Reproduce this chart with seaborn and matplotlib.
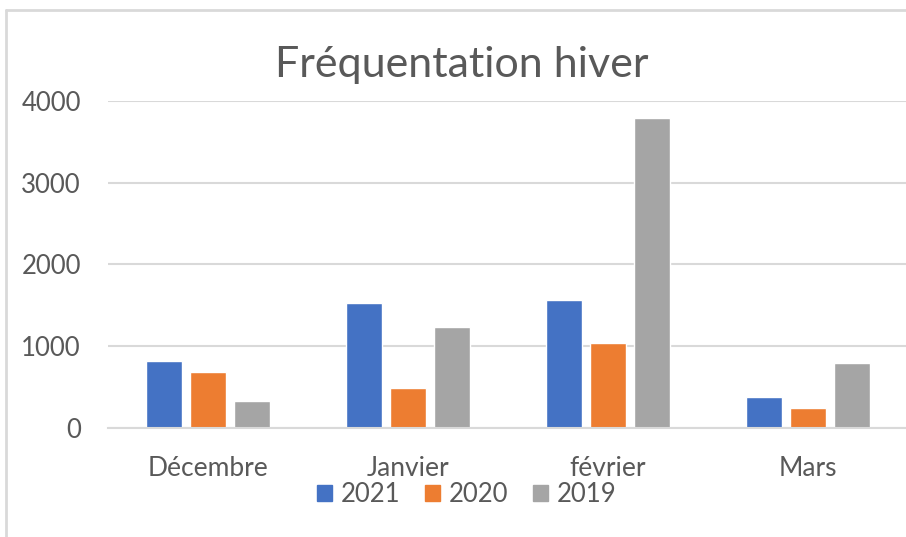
import matplotlib
matplotlib.use("Agg")
import matplotlib.pyplot as plt
import seaborn as sns
import pandas as pd
from matplotlib.patches import Rectangle
from matplotlib.lines import Line2D

months = ["Décembre", "Janvier", "février", "Mars"]
years = ["2021", "2020", "2019"]
v2021 = [820, 1525, 1565, 375]
v2020 = [685, 490, 1040, 245]
v2019 = [335, 1230, 3790, 800]
yticks = [0, 1000, 2000, 3000, 4000]
colors = ["#4472C4", "#ED7D31", "#A5A5A5"]

rows = []
for y, vals in zip(years, [v2021, v2020, v2019]):
    for m, v in zip(months, vals):
        rows.append({"Mois": m, "Année": y, "Valeur": v})
df = pd.DataFrame(rows)

sns.set_theme(style="white")
plt.rcParams['font.family'] = ['Lato', 'DejaVu Sans']

fig = plt.figure(figsize=(9.06, 5.37), dpi=100)
ax = fig.add_axes([108/906, 1-428/537, 800/906, (428-100.7)/537])

sns.barplot(data=df, x="Mois", y="Valeur", hue="Année", order=months,
            hue_order=years, palette=colors, width=0.66, gap=0.2,
            saturation=1, ax=ax, legend=False)

ax.set_xlim(-0.5, 3.5)
ax.set_ylim(0, 4000)
ax.set_yticks(yticks)
ax.set_yticklabels([str(t) for t in yticks])
ax.yaxis.grid(True, color="#D9D9D9", linewidth=1.5)
ax.set_axisbelow(True)
for s in ["top", "right", "left"]:
    ax.spines[s].set_visible(False)
ax.spines["bottom"].set_color("#D9D9D9")
ax.spines["bottom"].set_linewidth(1.5)
ax.set_xlabel("")
ax.set_ylabel("")
ax.tick_params(axis="both", length=0, labelcolor="#595959")
ax.tick_params(axis="y", pad=19.5, labelsize=18.5)
ax.tick_params(axis="x", pad=20, labelsize=19)

fig.text(462/906, 1-65/537, "Fréquentation hiver", ha="center", va="center",
         fontsize=31, color="#595959")

handles = [Rectangle((0, 0), 1, 1, color=c) for c in colors]
fig.legend(handles, years, loc="center", bbox_to_anchor=(467/906, 1-495/537),
           ncol=3, frameon=False, fontsize=18.5, labelcolor="#595959",
           handlelength=0.58, handleheight=0.58, handletextpad=0.35,
           columnspacing=0.95, borderpad=0)

fig.add_artist(Line2D([6/906, 6/906], [0, 1-10/537], transform=fig.transFigure,
                      color="#D9D9D9", linewidth=2))
fig.add_artist(Line2D([6/906, 1], [1-10/537, 1-10/537], transform=fig.transFigure,
                      color="#D9D9D9", linewidth=2))

fig.savefig("out.png", dpi=100)
